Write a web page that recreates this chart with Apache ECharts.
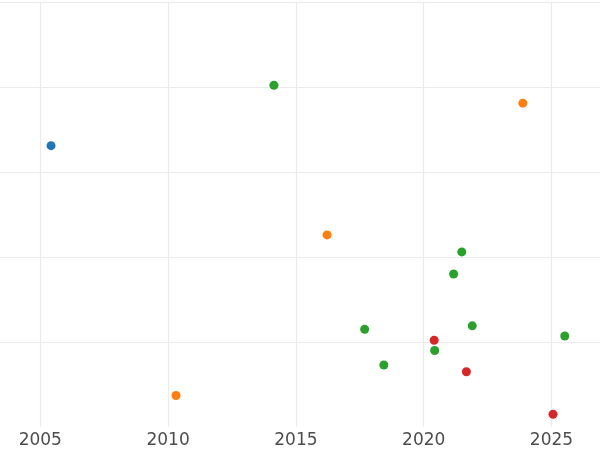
<!DOCTYPE html>
<html>
<head>
<meta charset="utf-8">
<script src="https://cdn.jsdelivr.net/npm/echarts@6/dist/echarts.min.js"></script>
<style>html,body{margin:0;padding:0;background:#fff}#c{width:600px;height:450px}</style>
</head>
<body>
<div id="c"></div>
<script>
var xTicks = [2005, 2010, 2015, 2020, 2025];
var yLines = [1, 2, 3, 4, 5];

var blueX = [2005.42];
var blueY = [3.31];

var orangeX = [2023.88, 2016.22, 2010.31];
var orangeY = [3.81, 2.26, 0.37];

var greenX = [2014.14, 2021.49, 2021.17, 2017.69, 2021.90, 2025.52, 2020.43, 2018.44];
var greenY = [4.02, 2.06, 1.80, 1.15, 1.19, 1.07, 0.90, 0.73];

var redX = [2020.41, 2021.67, 2025.06];
var redY = [1.02, 0.65, 0.15];

function pairs(xs, ys) { return xs.map(function (x, i) { return [x, ys[i]]; }); }

var gridColor = '#ebebeb';
var chart = echarts.init(document.getElementById('c'), null, {renderer: 'canvas'});
var markLines = xTicks.map(function (v) { return {xAxis: v}; })
  .concat(yLines.map(function (v) { return {yAxis: v}; }));

function sc(name, data, color, withLines) {
  var s = {
    name: name, type: 'scatter', data: data, symbolSize: 9,
    itemStyle: {color: color, opacity: 1}, z: 3, clip: false
  };
  if (withLines) {
    s.markLine = {
      silent: true, symbol: 'none', z: 1, animation: false,
      label: {show: false},
      lineStyle: {color: gridColor, width: 1.2, type: 'solid'},
      emphasis: {disabled: true},
      data: markLines
    };
  }
  return s;
}

chart.setOption({
  animation: false,
  backgroundColor: '#fff',
  grid: {left: 0, right: 0, top: 2, bottom: 23, containLabel: false},
  xAxis: {
    type: 'value', min: 2003.423, max: 2026.898,
    splitLine: {show: false}, axisLine: {show: false}, axisTick: {show: false},
    axisLabel: {
      customValues: xTicks, color: '#4d4d4d', fontSize: 17,
      fontFamily: 'DejaVu Sans', margin: 5,
      formatter: function (v) { return String(v); }
    }
  },
  yAxis: {
    type: 'value', min: 0, max: 5, interval: 1,
    splitLine: {show: false}, axisLine: {show: false}, axisTick: {show: false},
    axisLabel: {show: false}
  },
  series: [
    sc('a', pairs(blueX, blueY), '#1f77b4', true),
    sc('b', pairs(orangeX, orangeY), '#ff7f0e', false),
    sc('c', pairs(greenX, greenY), '#2ca02c', false),
    sc('d', pairs(redX, redY), '#d62728', false)
  ]
});
</script>
</body>
</html>
